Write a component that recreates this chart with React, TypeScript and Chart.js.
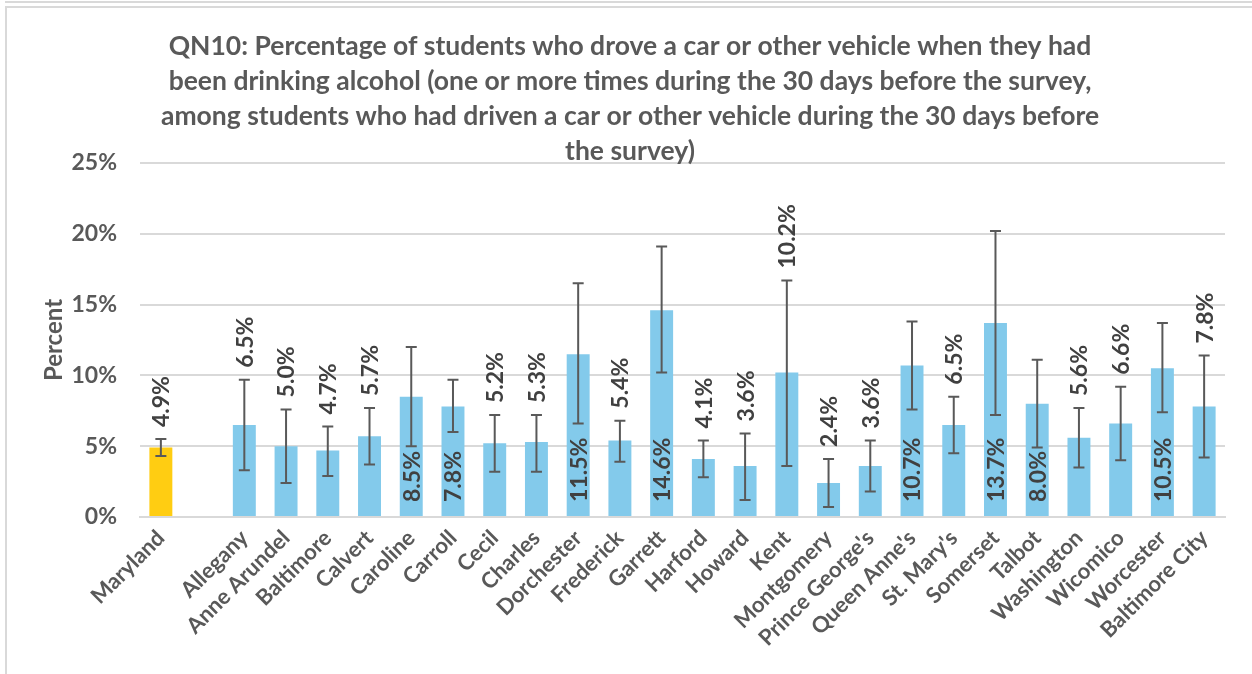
import React, { useEffect, useRef } from "react";
import { Chart, registerables } from "chart.js";

Chart.register(...registerables);

const titleLines = [
  "QN10: Percentage of students who drove a car or other vehicle when they had",
  "been drinking alcohol (one or more times during the 30 days before the survey,",
  "among students who had driven a car or other vehicle during the 30 days before",
  "the survey)",
];

const categories = [
  "Maryland", "", "Allegany", "Anne Arundel", "Baltimore", "Calvert", "Caroline",
  "Carroll", "Cecil", "Charles", "Dorchester", "Frederick", "Garrett", "Harford",
  "Howard", "Kent", "Montgomery", "Prince George's", "Queen Anne's", "St. Mary's",
  "Somerset", "Talbot", "Washington", "Wicomico", "Worcester", "Baltimore City",
];

const percentValues = [
  4.9, null, 6.5, 5.0, 4.7, 5.7, 8.5, 7.8, 5.2, 5.3, 11.5, 5.4, 14.6, 4.1, 3.6,
  10.2, 2.4, 3.6, 10.7, 6.5, 13.7, 8.0, 5.6, 6.6, 10.5, 7.8,
];

const ciLower = [
  4.3, null, 3.3, 2.4, 2.9, 3.7, 5.0, 6.0, 3.2, 3.2, 6.6, 3.9, 10.2, 2.8, 1.2,
  3.6, 0.7, 1.8, 7.6, 4.5, 7.2, 4.9, 3.5, 4.0, 7.4, 4.2,
];

const ciUpper = [
  5.5, null, 9.7, 7.6, 6.4, 7.7, 12.0, 9.7, 7.2, 7.2, 16.5, 6.8, 19.1, 5.4, 5.9,
  16.7, 4.1, 5.4, 13.8, 8.5, 20.2, 11.1, 7.7, 9.2, 13.7, 11.4,
];

const yTickValues = [0, 5, 10, 15, 20, 25];

const insideLabelCategories = [
  "Caroline", "Carroll", "Dorchester", "Garrett", "Queen Anne's", "Somerset",
  "Talbot", "Worcester",
];

const FONT = "Lato, 'Open Sans', sans-serif";
const TEXT = "#595959";
const STATE_COLOR = "#FFCD12";
const COUNTY_COLOR = "#83CAEB";

const titlePlugin = {
  id: "multiTitle",
  afterDraw(chart: any) {
    const ctx = chart.ctx;
    ctx.save();
    ctx.fillStyle = TEXT;
    ctx.font = `bold 26.5px ${FONT}`;
    ctx.textAlign = "center";
    ctx.textBaseline = "middle";
    titleLines.forEach((line, i) => {
      ctx.fillText(line, 630, 46 + i * 35);
    });
    ctx.restore();
  },
};

const errorBarPlugin = {
  id: "errorBars",
  afterDatasetsDraw(chart: any) {
    const ctx = chart.ctx;
    const meta = chart.getDatasetMeta(0);
    const yScale = chart.scales.y;
    ctx.save();
    ctx.strokeStyle = "#595959";
    ctx.lineWidth = 2;
    percentValues.forEach((v, i) => {
      if (v === null) return;
      const bar = meta.data[i];
      const x = bar.x;
      const yHi = yScale.getPixelForValue(ciUpper[i]);
      const yLo = yScale.getPixelForValue(ciLower[i]);
      ctx.beginPath();
      ctx.moveTo(x, yHi);
      ctx.lineTo(x, yLo);
      ctx.moveTo(x - 5.5, yHi);
      ctx.lineTo(x + 5.5, yHi);
      ctx.moveTo(x - 5.5, yLo);
      ctx.lineTo(x + 5.5, yLo);
      ctx.stroke();
    });
    // data labels
    ctx.fillStyle = "#404040";
    ctx.font = `bold 23px ${FONT}`;
    ctx.textBaseline = "middle";
    ctx.textAlign = "left";
    const base = yScale.getPixelForValue(0);
    percentValues.forEach((v, i) => {
      if (v === null) return;
      const bar = meta.data[i];
      const inside = insideLabelCategories.includes(categories[i]);
      const y0 = inside ? base - 15 : yScale.getPixelForValue(ciUpper[i]) - 12;
      ctx.save();
      ctx.translate(bar.x + 1, y0);
      ctx.rotate(-Math.PI / 2);
      ctx.fillText(v.toFixed(1) + "%", 0, 0);
      ctx.restore();
    });
    ctx.restore();
  },
};

export default function App() {
  const canvasRef = useRef<HTMLCanvasElement | null>(null);

  useEffect(() => {
    const canvas = canvasRef.current;
    if (!canvas) return;
    const chart = new Chart(canvas, {
      type: "bar",
      data: {
        labels: categories,
        datasets: [
          {
            data: percentValues as any,
            backgroundColor: categories.map((c, i) => (i === 0 ? STATE_COLOR : COUNTY_COLOR)),
            borderWidth: 0,
            categoryPercentage: 1,
            barPercentage: 0.55,
          },
        ],
      },
      options: {
        animation: false,
        responsive: false,
        maintainAspectRatio: false,
        layout: { padding: { top: 163, left: 0, right: 27, bottom: 0 } },
        plugins: {
          legend: { display: false },
          title: { display: false },
          tooltip: { enabled: false },
        },
        scales: {
          x: {
            grid: { display: false, drawTicks: false },
            border: { color: "#D9D9D9", width: 2 },
            ticks: {
              color: TEXT,
              font: { family: FONT, weight: "bold", size: 22 },
              minRotation: 45,
              maxRotation: 45,
              autoSkip: false,
              padding: 8,
            },
            afterFit(scale: any) {
              scale.height = 157;
            },
          },
          y: {
            min: 0,
            max: 25,
            afterBuildTicks(scale: any) {
              scale.ticks = yTickValues.map((v) => ({ value: v }));
            },
            grid: { color: "#D9D9D9", lineWidth: 2, drawTicks: false },
            border: { display: false },
            ticks: {
              color: TEXT,
              font: { family: FONT, weight: "bold", size: 23 },
              padding: 23,
              callback: (v: any) => v + "%",
            },
            title: {
              display: true,
              text: "Percent",
              color: TEXT,
              font: { family: FONT, weight: "bold", size: 24 },
              padding: { top: 40, bottom: 0 },
            },
            afterFit(scale: any) {
              scale.width = 140;
            },
          },
        },
      },
      plugins: [titlePlugin, errorBarPlugin],
    });
    return () => chart.destroy();
  }, []);

  return (
    <div style={{ position: "absolute", left: 0, top: 0, width: 1252, height: 674, overflow: "hidden", background: "#fff" }}>
      <div style={{ position: "absolute", left: 5, top: 1, width: 1300, height: 2, background: "#D9D9D9" }} />
      <div
        style={{
          position: "absolute",
          left: 5,
          top: 6,
          width: 1300,
          height: 800,
          borderLeft: "2px solid #D9D9D9",
          borderTop: "2px solid #D9D9D9",
        }}
      />
      <canvas ref={canvasRef} width={1252} height={674} style={{ position: "absolute", left: 0, top: 0 }} />
    </div>
  );
}
